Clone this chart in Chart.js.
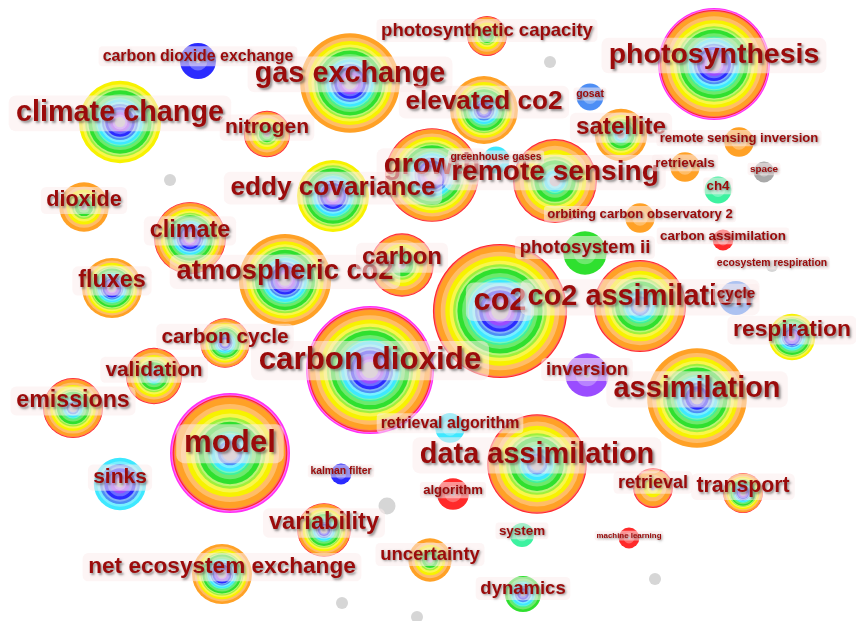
<!DOCTYPE html>
<html lang="en">
<head>
  <meta charset="UTF-8" />
  <title>Keyword co-occurrence network</title>
  <script src="https://cdn.jsdelivr.net/npm/chart.js"></script>
  <style>
    html, body { margin: 0; padding: 0; background: #fff; }
    #wrap { width: 856px; height: 621px; position: relative; }
  </style>
</head>
<body>
  <div id="wrap"><canvas id="net"></canvas></div>

  <script>
    // keyword nodes (layout coordinates of the network map)
    const keywords = [
      'photosynthesis', 'gas exchange', 'climate change', 'carbon dioxide exchange', 'nitrogen',
      'photosynthetic capacity', 'elevated co2', 'gosat', 'satellite', 'remote sensing inversion',
      'retrievals', 'space', 'ch4', 'remote sensing', 'growth',
      'greenhouse gases', 'eddy covariance', 'dioxide', 'climate', 'fluxes',
      'atmospheric co2', 'carbon', 'co2', 'co2 assimilation', 'photosystem ii',
      'orbiting carbon observatory 2', 'carbon assimilation', 'ecosystem respiration', 'cycle', 'respiration',
      'inversion', 'assimilation', 'carbon dioxide', 'carbon cycle', 'validation',
      'emissions', 'model', 'sinks', 'net ecosystem exchange', 'variability',
      'retrieval algorithm', 'data assimilation', 'kalman filter', 'algorithm', 'uncertainty',
      'system', 'dynamics', 'retrieval', 'transport', 'machine learning',
      '', '', '', '', '', ''
    ];
    const layoutX = [
      714, 350, 120, 198, 267, 487, 484, 590, 621, 739,
      685, 764, 718, 555, 432, 496, 333, 84, 190, 112,
      285, 402, 500, 640, 585, 640, 723, 772, 736, 792,
      587, 697, 370, 225, 154, 73, 230, 120, 222, 324,
      450, 537, 341, 453, 430, 522, 523, 653, 743, 629,
      387, 170, 550, 342, 417, 655
    ];
    const layoutY = [
      64, 83, 122, 61, 134, 36, 110, 97, 135, 142,
      167, 172, 190, 181, 175, 160, 196, 207, 238, 288,
      280, 265, 311, 306, 253, 218, 240, 266, 298, 337,
      375, 398, 370, 343, 376, 408, 453, 484, 574, 530,
      428, 464, 474, 494, 560, 535, 594, 488, 493, 538,
      506, 180, 62, 603, 617, 579
    ];
    // total occurrences -> node size
    const nodeCount = [
      87, 69, 47, 9, 15, 11, 32, 5, 19, 6,
      6, 3, 5, 49, 61, 5, 36, 17, 36, 25,
      59, 28, 125, 59, 13, 6, 3, 1, 8, 15,
      13, 69, 114, 17, 22, 25, 100, 19, 25, 20,
      6, 69, 3, 7, 13, 4, 9, 11, 11, 3,
      2, 1, 1, 1, 1, 1
    ];
    // term frequency -> label size
    const termFreq = [
      90, 92, 92, 28, 49, 38, 76, 12, 65, 19,
      20, 11, 20, 88, 93, 12, 76, 52, 61, 61,
      83, 64, 105, 93, 38, 19, 20, 12, 26, 58,
      38, 93, 109, 48, 48, 60, 108, 49, 57, 62,
      28, 93, 12, 19, 38, 20, 38, 36, 50, 7,
      0, 0, 0, 0, 0, 0
    ];
    // first and last time slice in which the keyword occurs
    const firstSlice = [
      1, 1, 1, 2, 6, 6, 2, 3, 4, 9,
      9, 0, 5, 4, 1, 4, 1, 6, 1, 1,
      1, 6, 1, 3, 6, 9, 10, 0, 3, 1,
      1, 2, 1, 2, 4, 3, 3, 1, 1, 2,
      4, 3, 2, 10, 6, 5, 2, 8, 1, 10,
      0, 0, 0, 0, 0, 0
    ];
    const lastSlice = [
      11, 9, 8, 2, 10, 10, 9, 3, 9, 9,
      9, 0, 5, 10, 10, 4, 8, 9, 10, 9,
      9, 10, 10, 10, 6, 9, 10, 0, 3, 8,
      1, 9, 11, 10, 10, 10, 11, 4, 9, 10,
      4, 10, 2, 10, 9, 5, 6, 10, 10, 10,
      0, 0, 0, 0, 0, 0
    ];
    // time slice colours, oldest to newest
    const sliceColors = [
      '#a9a9a9', '#9a4cff', '#2b2bff', '#4d8ef5', '#3ee8ff', '#3df2a0',
      '#2fe02f', '#9ef03c', '#f7f200', '#ffa126', '#ff2a2a', '#ff2ef5'
    ];
    const sliceWeight = [1, 1, 1, 0.7, 1, 0.5, 1.4, 0.7, 1.3, 1.7, 0.35, 0.4];

    function nodeRadius(i) { return 6 * Math.sqrt(nodeCount[i]); }
    function labelSize(i) { return 3 * Math.sqrt(termFreq[i]); }

    function lighten(hex, t) {
      const n = parseInt(hex.slice(1), 16);
      const r = (n >> 16) & 255, g = (n >> 8) & 255, b = n & 255;
      const m = c => Math.round(c + (255 - c) * t);
      return 'rgb(' + m(r) + ',' + m(g) + ',' + m(b) + ')';
    }

    function disc(ctx, x, y, r, color) {
      if (r <= 0) return;
      ctx.beginPath();
      ctx.arc(x, y, r, 0, Math.PI * 2);
      ctx.fillStyle = color;
      ctx.fill();
    }

    function drawRings(ctx, x, y, r, from, to, plain) {
      if (plain) { disc(ctx, x, y, r, '#d6d6d6'); return; }
      const core = from === 0 && to === 0 ? 0 : r * 0.13;
      let total = 0;
      for (let s = from; s <= to; s++) total += (from === to ? 1 : sliceWeight[s]);
      let outer = r;
      for (let s = to; s >= from; s--) {
        const w = (r - core) * (from === to ? 1 : sliceWeight[s]) / total;
        disc(ctx, x, y, outer, sliceColors[s]);
        disc(ctx, x, y, outer - w * 0.55, lighten(sliceColors[s], 0.3));
        outer -= w;
      }
      disc(ctx, x, y, core, '#bdb8c4');
    }

    function drawLabel(ctx, text, x, y, size) {
      ctx.font = 'bold ' + size.toFixed(1) + 'px "Liberation Sans", Arial, sans-serif';
      const w = ctx.measureText(text).width;
      const pad = size * 0.25, h = size * 1.25;
      ctx.fillStyle = 'rgba(252, 236, 236, 0.55)';
      ctx.beginPath();
      ctx.roundRect(x - w / 2 - pad, y - h / 2, w + 2 * pad, h, size * 0.25);
      ctx.fill();
      ctx.shadowColor = 'rgba(70, 70, 70, 0.6)';
      ctx.shadowOffsetX = Math.max(1, size * 0.07);
      ctx.shadowOffsetY = Math.max(1, size * 0.07);
      ctx.shadowBlur = 2.5;
      ctx.fillStyle = '#9b0b0b';
      ctx.textAlign = 'center';
      ctx.textBaseline = 'middle';
      ctx.fillText(text, x, y);
      ctx.shadowColor = 'transparent';
      ctx.shadowOffsetX = 0;
      ctx.shadowOffsetY = 0;
      ctx.shadowBlur = 0;
    }

    const ringPlugin = {
      id: 'rings',
      afterDatasetsDraw(chart) {
        const ctx = chart.ctx;
        const meta = chart.getDatasetMeta(0);
        const xs = chart.scales.x;
        const order = keywords.map((_, i) => i).sort((a, b) => nodeCount[b] - nodeCount[a]);
        ctx.save();
        order.forEach(i => {
          const el = meta.data[i];
          const r = xs.getPixelForValue(layoutX[i] + nodeRadius(i)) - xs.getPixelForValue(layoutX[i]);
          drawRings(ctx, el.x, el.y, r, firstSlice[i], lastSlice[i], !keywords[i] || keywords[i] === 'ecosystem respiration');
        });
        order.forEach(i => {
          if (!keywords[i]) return;
          const el = meta.data[i];
          const size = labelSize(i);
          drawLabel(ctx, keywords[i], el.x, el.y - size * 0.3, size);
        });
        ctx.restore();
      }
    };

    new Chart(document.getElementById('net'), {
      type: 'scatter',
      data: {
        datasets: [{
          data: keywords.map((k, i) => ({ x: layoutX[i], y: layoutY[i] })),
          pointRadius: 0,
          pointHoverRadius: 0
        }]
      },
      options: {
        responsive: true,
        maintainAspectRatio: false,
        animation: false,
        layout: { padding: 0 },
        scales: {
          x: { type: 'linear', min: 0, max: 856, display: false },
          y: { type: 'linear', min: 0, max: 621, reverse: true, display: false }
        },
        plugins: {
          legend: { display: false },
          tooltip: { enabled: false }
        },
        events: []
      },
      plugins: [ringPlugin]
    });
  </script>
</body>
</html>
